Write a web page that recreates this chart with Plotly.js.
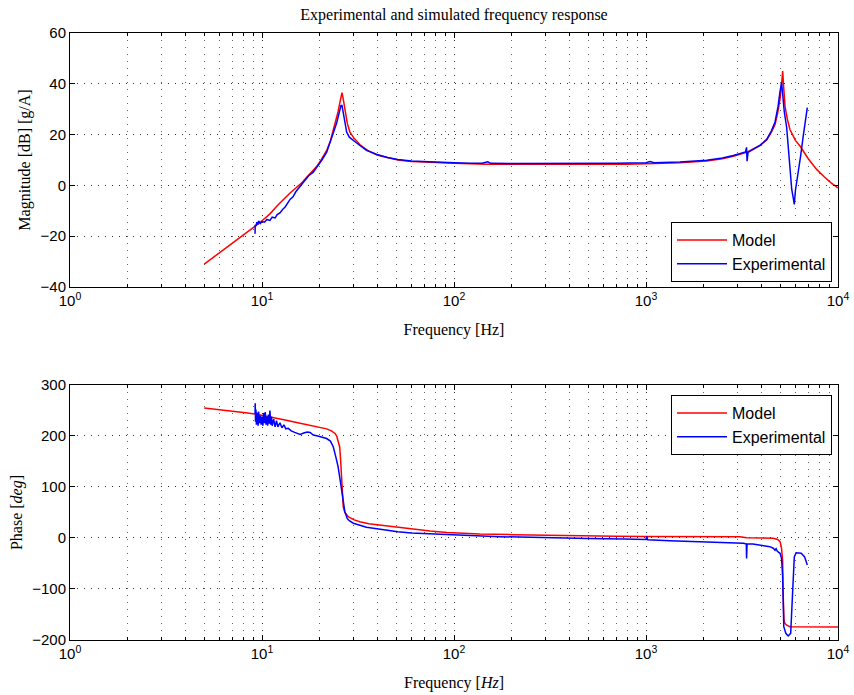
<!DOCTYPE html>
<html>
<head>
<meta charset="utf-8">
<script src="https://cdn.plot.ly/plotly-3.0.1.min.js"></script>
<style>html,body{margin:0;padding:0;background:#fff;}#chart{width:854px;height:695px;}</style>
</head>
<body>
<div id="chart"></div>
<script>
// ---------- Data ----------
const modelMagFreq = [5,6,7,8,9,10,11,12,13,14,15,16,17,18,19.3,20.5,21.8,22.7,23.4,24.2,24.9,25.5,26.1,26.5,27.1,27.8,28.7,30,32.4,35.5,39.7,45,51,60,70,85,100,148,300,500,794,1000,1500,2070,2500,2850,3340,3920,4250,4500,4700,4850,4990,5080,5150,5220,5300,5450,5620,6000,6340,7000,7740,8500,9200,10000];
const modelMag = [-31,-26.6,-22.8,-19.5,-16.6,-13.9,-11.2,-8,-5.3,-3,-1,0.8,3,5,7.5,10.5,14,17.5,21,25,29,33,36.5,34,29,24.5,21,18.8,16,13.8,12,10.9,10,9.4,9.1,8.9,8.7,8.3,8.2,8.2,8.3,8.5,8.9,9.6,10.5,11.5,13,15.7,18,21,24,28.5,34,39.5,45,38,31,26,22,17.7,15.5,10.5,6.3,3.3,1,-1];

const expMagFreq = [9.2,9.22,9.3,9.4,9.5,9.6,9.8,10,10.3,10.6,11,11.3,11.7,12,12.4,12.8,13.2,14,14.5,15,15.8,16.5,17.5,18.5,19.5,20.5,21.7,22.7,23.6,24.5,25.3,25.8,26.1,26.5,27,27.6,28.5,30,31,35,39.7,45,51,60,70,85,100,120,140,150,155,200,300,500,700,1000,1050,1100,1500,2070,2500,2850,3300,3340,3360,3400,3920,4250,4500,4700,4870,4990,5080,5150,5250,5400,5550,5740,5850,5920,6000,6210,6400,6590,6750,6920];
const expMag = [-19,-15.5,-16,-14.5,-15.5,-14,-15,-14.2,-14.5,-13.4,-13.8,-12.5,-12.8,-11.5,-10.8,-9.5,-8.5,-5.5,-4.5,-2.5,-0.3,1.5,3.8,5.2,7.5,10,13,17,21,24.7,28.5,31.5,31.5,29,25,21,19,17.5,16.8,13.8,12.2,11,10.2,9.6,9.3,9,8.9,8.7,8.7,9.3,8.7,8.6,8.6,8.6,8.7,8.9,9.4,8.9,9.2,9.9,10.8,11.8,13.2,15,9.5,13,15.8,18,21.5,25,31,37,40.5,36,29,23,11,-1.5,-5,-7.5,-2,5,12,19.4,25,30.6];

const modelPhaseFreq = [5,6,7,8,9.2,11,13,15.8,18,20,21.7,23,24,24.5,25,25.4,25.7,26,26.3,26.5,27,28.1,30,32.3,36,41,51,61,75,92,136,204,300,419,700,1000,1910,3090,3340,4000,4600,4850,4990,5080,5150,5170,5190,5230,5280,5400,5620,10000];
const modelPhase = [255,252,249,246,243,238,232,225,220,217,214,210,205,200,190,178,150,114,80,61,50,42,36,32,28,25.5,21,17,13.5,11,7.8,6.5,5,3.9,3.2,3,2.5,2.5,0.5,0,-0.6,-3,-7,-20,-45,-100,-141,-160,-167,-171,-174,-174.5];

const expPhaseFreq = [9.2,9.22,9.25,9.3,9.35,9.4,9.45,9.5,9.55,9.6,9.7,9.8,9.9,10,10.1,10.2,10.3,10.4,10.5,10.6,10.7,10.8,10.9,11,11.1,11.2,11.3,11.5,11.7,11.9,12.1,12.4,12.7,13,13.3,13.7,14.2,14.8,15.3,15.8,16.5,17.2,17.8,18.5,19.5,20.5,21.7,22.7,23.5,24.2,24.9,25.5,26,26.5,27,27.8,28.5,29.9,32,35,38,44,51,60,80,107,140,173,250,357,500,763,1000,1010,1020,1330,1900,2520,3220,3330,3340,3360,3600,4000,4420,4600,4700,4760,4830,4990,5080,5150,5190,5220,5350,5500,5670,5740,5800,5850,5920,6050,6430,6700,6920];
const expPhase = [245,264,228,252,222,246,226,240,220,248,225,240,222,238,220,245,225,247,222,238,220,242,224,250,222,238,220,233,218,230,218,226,216,222,214,215,210,207,205,203,206,208,207,202,200,198,195,190,179,160,140,115,94,70,52,38,34,29,25,21,19,15,12.4,10,7.5,5.9,4,2.6,1,0,-1,-2,-3,3,-3.5,-5.2,-7,-8.5,-10.5,-12,-40,-12,-12,-14,-17,-20,-24,-21,-26,-30,-40,-76,-130,-174,-187,-192,-187,-148,-100,-69,-37,-29,-30,-37,-53];

const seriesNames = ['Model', 'Experimental'];
const decadeTicks = [1, 10, 100, 1000, 10000];
const decadeLabels = ['10<sup>0</sup>', '10<sup>1</sup>', '10<sup>2</sup>', '10<sup>3</sup>', '10<sup>4</sup>'];
// ------------------------------------------------------------

const minorVals = [];
for (let d = 1; d < 10000; d *= 10) for (let k = 2; k <= 9; k++) minorVals.push(k * d);

const SANS = 'Liberation Sans, Arial, sans-serif';
const SERIF = 'Liberation Serif, Times New Roman, serif';
const RED = '#ff0000', BLUE = '#0000ff';

const traces = [
  {x: modelMagFreq, y: modelMag, name: seriesNames[0], type: 'scatter', mode: 'lines', line: {color: RED, width: 1.5}, xaxis: 'x', yaxis: 'y', legend: 'legend'},
  {x: expMagFreq, y: expMag, name: seriesNames[1], type: 'scatter', mode: 'lines', line: {color: BLUE, width: 1.5}, xaxis: 'x', yaxis: 'y', legend: 'legend'},
  {x: modelPhaseFreq, y: modelPhase, name: seriesNames[0], type: 'scatter', mode: 'lines', line: {color: RED, width: 1.5}, xaxis: 'x2', yaxis: 'y2', legend: 'legend2'},
  {x: expPhaseFreq, y: expPhase, name: seriesNames[1], type: 'scatter', mode: 'lines', line: {color: BLUE, width: 1.5}, xaxis: 'x2', yaxis: 'y2', legend: 'legend2'}
];

function xAxis(titleText, anchor) {
  return {
    type: 'log', range: [0, 4], anchor: anchor,
    tickmode: 'array', tickvals: decadeTicks, ticktext: decadeLabels,
    ticks: 'inside', ticklen: 5, tickcolor: '#000', mirror: 'allticks',
    showline: true, linecolor: '#000', linewidth: 1,
    showgrid: true, gridcolor: '#333', griddash: '1px,6px', gridwidth: 1,
    minor: {tickmode: 'array', tickvals: minorVals, ticks: 'inside', ticklen: 3, tickcolor: '#000', showgrid: true, gridcolor: '#666', griddash: '1px,6px', gridwidth: 1},
    tickfont: {family: SANS, size: 15, color: '#000'},
    title: {text: titleText, font: {family: SERIF, size: 16, color: '#000'}, standoff: 15},
    zeroline: false, automargin: false
  };
}
function yAxis(titleText, range, dtick, domain, anchor) {
  return {
    range: range, dtick: dtick, tick0: 0, domain: domain, anchor: anchor,
    ticks: 'inside', ticklen: 5, tickcolor: '#000', mirror: 'allticks',
    showline: true, linecolor: '#000', linewidth: 1,
    showgrid: true, gridcolor: '#333', griddash: '1px,6px', gridwidth: 1,
    tickfont: {family: SANS, size: 15, color: '#000'},
    title: {text: titleText, font: {family: SERIF, size: 16, color: '#000'}, standoff: 5},
    zeroline: false, automargin: false
  };
}

const legendStyle = {
  bgcolor: '#fff', bordercolor: '#000', borderwidth: 1,
  font: {family: SANS, size: 16, color: '#000'},
  xref: 'paper', yref: 'paper', itemwidth: 50, tracegroupgap: 0
};

const layout = {
  width: 854, height: 695,
  paper_bgcolor: '#fff', plot_bgcolor: '#fff',
  margin: {l: 70, r: 16, t: 33, b: 55},
  showlegend: true,
  title: {text: 'Experimental and simulated frequency response', font: {family: SERIF, size: 16, color: '#000'}, x: 0.5, xref: 'paper', y: 1 - 14 / 695, yref: 'container', yanchor: 'middle'},
  xaxis: Object.assign(xAxis('Frequency [Hz]', 'y'), {domain: [0, 1]}),
  yaxis: yAxis('Magnitude [dB] [g/A]', [-40, 60], 20, [0.5815, 1], 'x'),
  xaxis2: Object.assign(xAxis('Frequency [<i>Hz</i>]', 'y2'), {domain: [0, 1]}),
  yaxis2: yAxis('Phase [<i>deg</i>]', [-200, 300], 100, [0, 0.4201], 'x2'),
  legend: Object.assign({}, legendStyle, {x: 0.9922, y: 0.5898, xanchor: 'right', yanchor: 'bottom'}),
  legend2: Object.assign({}, legendStyle, {x: 0.9922, y: 0.4036, xanchor: 'right', yanchor: 'top'})
};

Plotly.newPlot('chart', traces, layout, {displayModeBar: false, staticPlot: true});
</script>
</body>
</html>
